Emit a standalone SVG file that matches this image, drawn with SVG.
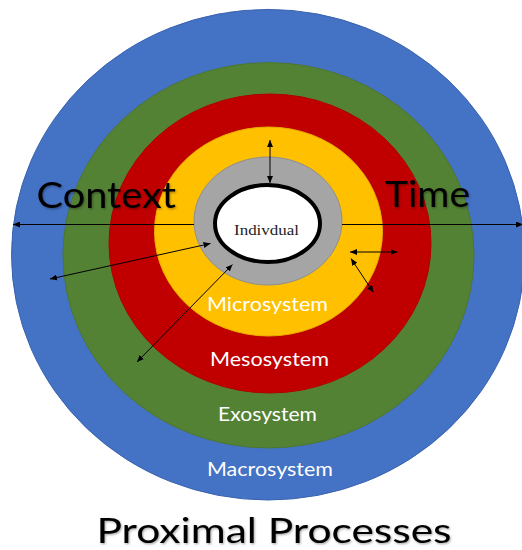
<svg xmlns="http://www.w3.org/2000/svg" width="522" height="550" viewBox="0 0 522 550">
  <defs>
    <marker id="head" viewBox="0 0 10 10" refX="10" refY="5" markerWidth="7" markerHeight="6" markerUnits="userSpaceOnUse" orient="auto-start-reverse" preserveAspectRatio="none">
      <path d="M0,0 L10,5 L0,10 Z" fill="#000"/>
    </marker>
    <filter id="soft" x="-10%" y="-20%" width="120%" height="150%">
      <feDropShadow dx="1" dy="1.2" stdDeviation="0.9" flood-color="#000" flood-opacity="0.35"/>
    </filter>
  </defs>
  <style>
    .ring { stroke-width: 1; }
    .big { font-family: Lato, "Open Sans", "Liberation Sans", sans-serif; fill: #000; filter: url(#soft); }
    .lvl { font-family: Lato, "Open Sans", "Liberation Sans", sans-serif; font-size: 19px; fill: #fff; text-anchor: middle; }
    .ind { font-family: "Liberation Serif", "DejaVu Serif", serif; font-size: 15.5px; fill: #222; text-anchor: middle; }
    .conn line { stroke: #000; stroke-width: 1; fill: none; marker-start: url(#head); marker-end: url(#head); }
    .conn line.one { marker-start: none; }
  </style>

  <rect width="522" height="550" fill="#fff"/>

  <!-- nested system rings, outermost first -->
  <g id="macrosystem">
    <ellipse class="ring" cx="268" cy="254.7" rx="256.5" ry="245.3" fill="#4472C4" stroke="#3A63AE"/>
    <text class="lvl" x="270" y="476" textLength="126" lengthAdjust="spacingAndGlyphs">Macrosystem</text>
  </g>
  <g id="exosystem">
    <ellipse class="ring" cx="268.5" cy="255.3" rx="205.5" ry="192.7" fill="#548235" stroke="#4C7631"/>
    <text class="lvl" x="267.5" y="421" textLength="99" lengthAdjust="spacingAndGlyphs">Exosystem</text>
  </g>
  <g id="mesosystem">
    <ellipse class="ring" cx="270" cy="243.5" rx="161" ry="149.5" fill="#C00000" stroke="#B00000"/>
    <text class="lvl" x="269.5" y="366" textLength="119" lengthAdjust="spacingAndGlyphs">Mesosystem</text>
  </g>
  <g id="microsystem">
    <ellipse class="ring" cx="268.5" cy="231.5" rx="114" ry="104.5" fill="#FFC000" stroke="#E8AE00"/>
    <text class="lvl" x="267.5" y="311" textLength="121" lengthAdjust="spacingAndGlyphs">Microsystem</text>
  </g>
  <g id="proximal-ring">
    <ellipse class="ring" cx="268" cy="221" rx="74" ry="64" fill="#A5A5A5" stroke="#8E8E8E"/>
  </g>
  <g id="individual">
    <ellipse cx="267.5" cy="223.5" rx="52.5" ry="38.5" fill="#fff" stroke="#000" stroke-width="4"/>
    <text class="ind" x="266.5" y="234.5" textLength="65" lengthAdjust="spacingAndGlyphs">Indivdual</text>
  </g>

  <!-- connectors -->
  <g id="connectors" class="conn">
    <line class="one" x1="194" y1="224.5" x2="13" y2="224.5"/>
    <line class="one" x1="342" y1="224.5" x2="523" y2="224.5"/>
    <line x1="270" y1="140" x2="270" y2="183"/>
    <line x1="50" y1="279" x2="210.5" y2="243.5"/>
    <line x1="137" y1="362" x2="232.5" y2="264.5"/>
    <line x1="350" y1="252" x2="397.5" y2="252"/>
    <line x1="351" y1="258.5" x2="373.5" y2="292.5"/>
  </g>

  <!-- axis labels and caption -->
  <g id="context-label">
    <text class="big" x="36.5" y="207.5" font-size="37" textLength="139.5" lengthAdjust="spacingAndGlyphs">Context</text>
  </g>
  <g id="time-label">
    <text class="big" x="385" y="207" font-size="37" textLength="85" lengthAdjust="spacingAndGlyphs">Time</text>
  </g>
  <g id="caption">
    <text class="big" x="96.5" y="543" font-size="35.5" textLength="355" lengthAdjust="spacingAndGlyphs">Proximal Processes</text>
  </g>
</svg>
